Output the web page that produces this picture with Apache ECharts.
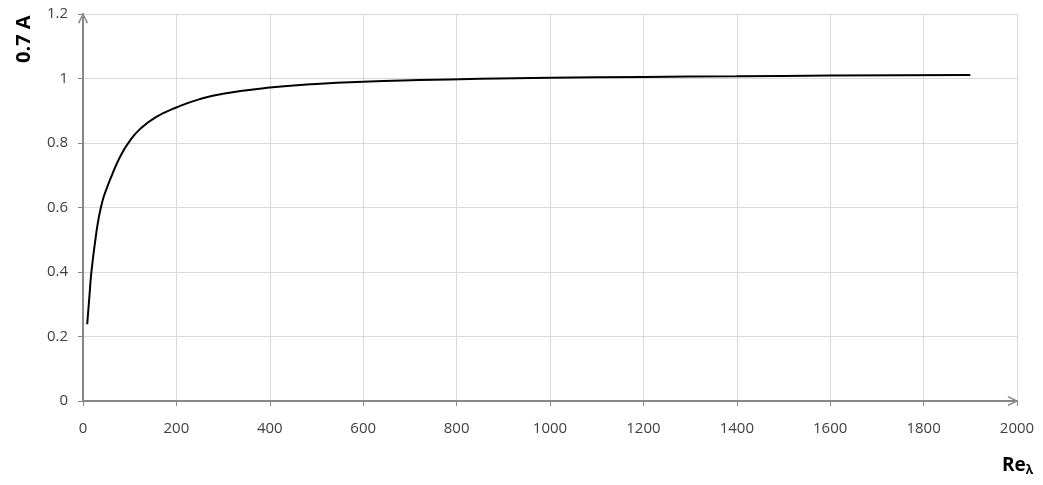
<!DOCTYPE html>
<html>
<head>
<meta charset="utf-8">
<script src="https://cdn.jsdelivr.net/npm/echarts@6/dist/echarts.min.js"></script>
<style>
  html, body { margin: 0; padding: 0; background: #fff; }
</style>
</head>
<body>
<div id="chart" style="width: 1043px; height: 485px"></div>
<script>
  // Re_lambda values
  const reLambda = [9, 14, 18, 27, 34, 43, 51, 59, 72, 85, 100, 122, 157, 203, 250, 300, 400, 500, 600, 720, 850, 1000, 1200, 1400, 1600, 1900];
  const aValues = [0.238, 0.33, 0.4, 0.505, 0.57, 0.627, 0.66, 0.69, 0.735, 0.772, 0.806, 0.843, 0.881, 0.912, 0.936, 0.953, 0.972, 0.983, 0.99, 0.995, 0.999, 1.002, 1.005, 1.007, 1.009, 1.011];

  const axisColor = "#888888";
  const gridColor = "#d9d9d9";
  const labelFont = "'Open Sans', 'Noto Sans', sans-serif";
  // open chevron arrow head
  const arrowPath = "path://M0,10 L5,0 L10,10 L8.6,10.8 L5,3.2 L1.4,10.8 Z";

  const chart = echarts.init(document.getElementById("chart"));

  const option = {
    animation: false,
    grid: {
      left: 83,
      right: 26,
      top: 14,
      bottom: 84,
    },
    xAxis: {
      type: "value",
      min: 0,
      max: 2000,
      interval: 200,
      axisLine: {
        show: true,
        symbol: ["none", arrowPath],
        symbolSize: [12, 11],
        symbolOffset: [0, -4],
        lineStyle: { color: axisColor, width: 2 },
      },
      axisTick: {
        show: true,
        length: 5,
        lineStyle: { color: axisColor, width: 1 },
      },
      axisLabel: {
        color: "#404040",
        fontSize: 15,
        fontFamily: labelFont,
        margin: 20,
        formatter: v => String(v),
      },
      splitLine: {
        show: true,
        lineStyle: { color: gridColor, width: 1 },
      },
    },
    yAxis: {
      type: "value",
      min: 0,
      max: 1.2,
      interval: 0.2,
      axisLine: {
        show: true,
        symbol: ["none", arrowPath],
        symbolSize: [12, 11],
        symbolOffset: [0, -4],
        lineStyle: { color: axisColor, width: 2 },
      },
      axisTick: {
        show: true,
        length: 5,
        lineStyle: { color: axisColor, width: 1 },
      },
      axisLabel: {
        color: "#404040",
        fontSize: 15,
        fontFamily: labelFont,
        margin: 15,
        formatter: v => String(+v.toFixed(1)),
      },
      splitLine: {
        show: true,
        lineStyle: { color: gridColor, width: 1 },
      },
    },
    series: [
      {
        type: "line",
        smooth: 0.5,
        showSymbol: false,
        symbol: "none",
        lineStyle: { color: "#000", width: 2 },
        data: reLambda.map((x, i) => [x, aValues[i]]),
      },
    ],
    graphic: [
      {
        type: "text",
        rotation: Math.PI / 2,
        x: 14,
        y: 63,
        style: {
          text: "0.7 A",
          fontSize: 20,
          fontWeight: "bold",
          fontFamily: labelFont,
          fill: "#000",
        },
      },
      {
        type: "text",
        x: 1002,
        y: 455,
        style: {
          text: "{a|Re}{b|λ}",
          rich: {
            a: { fontSize: 19, fontWeight: "bold", fontFamily: labelFont, color: "#000" },
            b: { fontSize: 12, fontWeight: "bold", fontFamily: labelFont, color: "#000", padding: [10, 0, 0, 0] },
          },
        },
      },
    ],
  };

  chart.setOption(option);
</script>
</body>
</html>
